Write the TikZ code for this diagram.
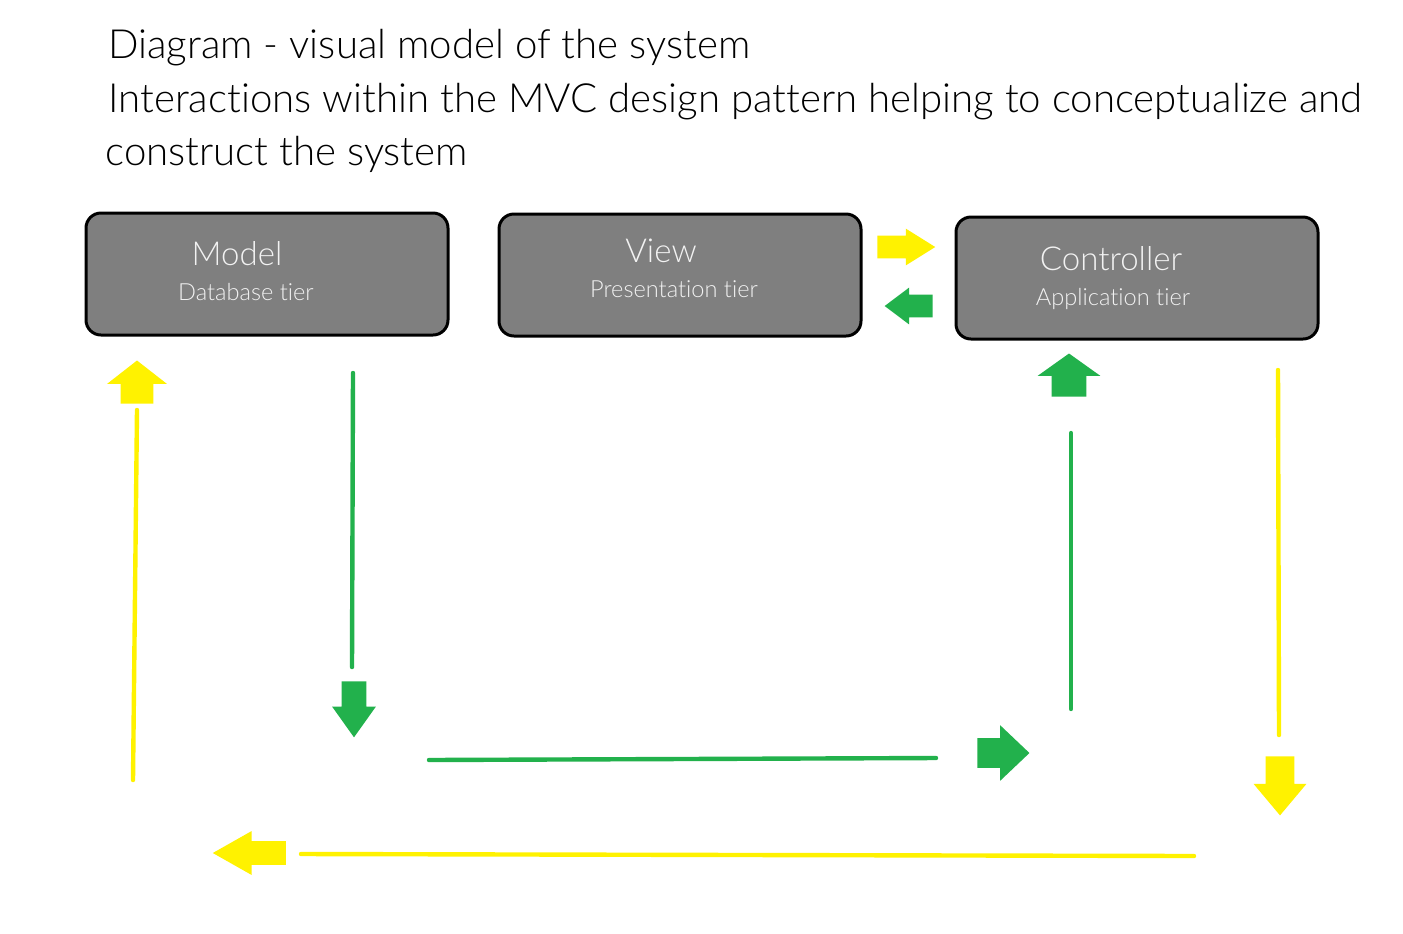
\documentclass[tikz,border=0pt]{standalone}
\usepackage{fontspec}
\IfFontExistsTF{Lato Light}{\setmainfont{Lato Light}[Ligatures={NoCommon}]}{\setmainfont{Lato}[Ligatures={NoCommon}]}
\usepackage{xcolor}
\usepackage{tikz}
\usetikzlibrary{shapes.arrows}

\definecolor{boxgray}{HTML}{7F7F7F}
\definecolor{tiertext}{HTML}{F2F2F2}
\definecolor{flowyellow}{HTML}{FFF200}
\definecolor{flowgreen}{HTML}{22B14C}

\tikzset{
	tier/.style={draw=black, line width=1.5pt, fill=boxgray, rounded corners=7.5pt,
		minimum width=181pt, minimum height=61pt, inner sep=0pt},
	tiername/.style={text=tiertext, font=\fontsize{16.5}{18}\selectfont, anchor=base, inner sep=0pt},
	tiersub/.style={text=tiertext, font=\fontsize{11.8}{13}\selectfont, anchor=base, inner sep=0pt},
	heading/.style={font=\fontsize{20.1}{24}\selectfont, anchor=base west, inner sep=0pt},
	flow/.style={line width=2.2pt, line cap=round},
	blockarrow/.style={single arrow, draw=none, anchor=tip, inner sep=0pt,
		single arrow head indent=0pt},
}

\begin{document}
\begin{tikzpicture}
			[x=0.5pt, y=-0.5pt]
			\useasboundingbox[fill=white] (0,0) rectangle (1403,933);
			% headings
			\node[heading] (h1) at (108,58) {Diagram - visual model of the system};
			\node[heading] (h2) at (108,112) {Interactions within the MVC design pattern helping to conceptualize and};
			\node[heading] (h3) at (105,165) {construct the system};
			% tiers
			\node[tier] (model) at (267,274) {};
			\node[tier] (view) at (680,275) {};
			\node[tier] (ctrl) at (1137,278) {};
			\node[tiername] (modelname) at (237,265) {Model};
			\node[tiersub] (modelsub) at (246,300) {Database tier};
			\node[tiername] (viewname) at (661,262) {View};
			\node[tiersub] (viewsub) at (674,297) {Presentation tier};
			\node[tiername] (ctrlname) at (1111,270) {Controller};
			\node[tiersub] (ctrlsub) at (1113,305) {Application tier};
			% block arrows
			\node[blockarrow, fill=flowyellow, minimum height=29pt, inner ysep=5.5pt,
				single arrow head extend=3.5pt, single arrow tip angle=64] (toctrl) at (936,247) {};
			\node[blockarrow, fill=flowgreen, rotate=180, minimum height=24pt, inner ysep=5.5pt,
				single arrow head extend=3.5pt, single arrow tip angle=74] (toview) at (884,306) {};
			\node[blockarrow, fill=flowyellow, rotate=90, minimum height=21.5pt, inner ysep=8pt,
				single arrow head extend=6.75pt, single arrow tip angle=104] (tomodel) at (137,360) {};
			\node[blockarrow, fill=flowgreen, rotate=-90, minimum height=28pt, inner ysep=6pt,
				single arrow head extend=4.75pt, single arrow tip angle=71] (fromdb) at (354,738) {};
			\node[blockarrow, fill=flowgreen, rotate=90, minimum height=21.5pt, inner ysep=8.5pt,
				single arrow head extend=7pt, single arrow tip angle=109] (toapp) at (1069,353) {};
			\node[blockarrow, fill=flowgreen, minimum height=26pt, inner ysep=7.25pt,
				single arrow head extend=6.5pt, single arrow tip angle=87] (acrossgreen) at (1030,753) {};
			\node[blockarrow, fill=flowyellow, rotate=-90, minimum height=29.5pt, inner ysep=7pt,
				single arrow head extend=6pt, single arrow tip angle=80] (fromapp) at (1280,816) {};
			\node[blockarrow, fill=flowyellow, rotate=180, minimum height=36.5pt, inner ysep=5.75pt,
				single arrow head extend=5pt, single arrow tip angle=59] (backyellow) at (212,853) {};
			% line ends
			\coordinate (ya) at (133,780);
			\coordinate (yb) at (137,410);
			\coordinate (ga) at (353,373);
			\coordinate (gb) at (352,667);
			\coordinate (gc) at (429,760);
			\coordinate (gd) at (936,758);
			\coordinate (ge) at (1071,709);
			\coordinate (gf) at (1071,433);
			\coordinate (yc) at (1278,370);
			\coordinate (yd) at (1279,735);
			\coordinate (ye) at (1194,856);
			\coordinate (yf) at (301,854);
			% flows
			\draw[flow, flowyellow] (ya) -- (yb);
			\draw[flow, flowgreen] (ga) -- (gb);
			\draw[flow, flowgreen] (gc) -- (gd);
			\draw[flow, flowgreen] (ge) -- (gf);
			\draw[flow, flowyellow] (yc) -- (yd);
			\draw[flow, flowyellow] (ye) -- (yf);
		\end{tikzpicture}
\end{document}
